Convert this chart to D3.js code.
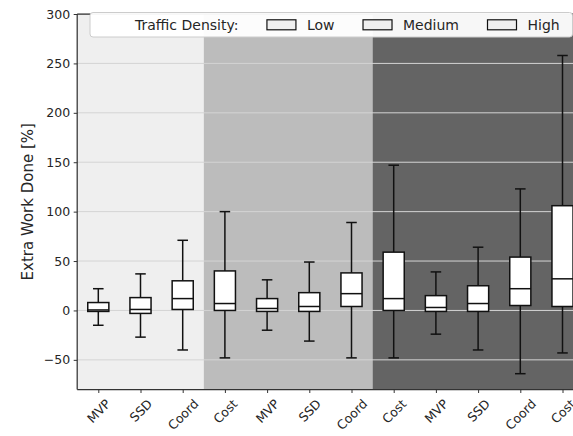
<!DOCTYPE html>
<html>
<head>
<meta charset="utf-8">
<script src="https://cdn.jsdelivr.net/npm/d3@7"></script>
<style>
  html, body { margin: 0; padding: 0; background: #ffffff; }
  svg { display: block; font-family: "DejaVu Sans", sans-serif; }
</style>
</head>
<body>
<svg id="chart" width="573" height="436"></svg>
<script>
// ---- data ----
const categories = ["MVP", "SSD", "Coord", "Cost", "MVP", "SSD", "Coord", "Cost", "MVP", "SSD", "Coord", "Cost"];
const density = ["Low", "Low", "Low", "Medium", "Medium", "Medium", "Medium", "High", "High", "High", "High", "High"];
const whiskerLow  = [-15, -27, -40, -48, -20, -31, -48, -48, -24, -40, -64, -43];
const q1          = [ -1,  -3,   1,   0,  -1,  -1,   4,   0,  -1,  -1,   5,   4];
const median      = [  0.5, 1,  12,   7,   2,   4,  17,  12,   3,   7,  22,  32];
const q3          = [  8,  13,  30,  40,  12,  18,  38,  59,  15,  25,  54, 106];
const whiskerHigh = [ 22,  37,  71, 100,  31,  49,  89, 147,  39,  64, 123, 258];
const densityLevels = ["Low", "Medium", "High"];
const densityColors = ["#efefef", "#bcbcbc", "#646464"];
const yTicks = [-50, 0, 50, 100, 150, 200, 250, 300];
const legendTitle = "Traffic Density:";
const yLabel = "Extra Work Done [%]";

(function () {
// ---- layout ----
const svg = d3.select("#chart");
const pL = 77.2, pR = 583.6, pT = 14, pB = 389.5;
const x = d3.scaleLinear().domain([0.5, categories.length + 0.5]).range([pL, pR]);
const y = d3.scaleLinear().domain([-80, 300]).range([pB, pT]);
const pos = categories.map((c, i) => i + 1);

// background bands
const bands = densityLevels.map((lvl, k) => {
  const idx = density.map((d, i) => d === lvl ? i : -1).filter(i => i >= 0);
  return { lvl, color: densityColors[k], start: d3.min(idx) + 0.5, end: d3.max(idx) + 1.5 };
});
svg.append("g").selectAll("rect").data(bands).join("rect")
  .attr("x", d => x(d.start)).attr("width", d => x(d.end) - x(d.start))
  .attr("y", pT).attr("height", pB - pT)
  .attr("fill", d => d.color);

// grid
svg.append("g").selectAll("line").data(yTicks).join("line")
  .attr("x1", pL).attr("x2", pR)
  .attr("y1", d => y(d)).attr("y2", d => y(d))
  .attr("stroke", "#d4d4d4").attr("stroke-width", 1);

// boxes
const bw = 0.5, cw = 0.25;
const g = svg.append("g");
pos.forEach((p, i) => {
  const cx = x(p);
  const hw = (x(p + bw / 2) - x(p - bw / 2)) / 2;
  const chw = (x(p + cw / 2) - x(p - cw / 2)) / 2;
  const line = (x1, y1, x2, y2) => g.append("line")
    .attr("x1", x1).attr("y1", y1).attr("x2", x2).attr("y2", y2)
    .attr("stroke", "#111").attr("stroke-width", 1.5);
  line(cx, y(q3[i]), cx, y(whiskerHigh[i]));
  line(cx, y(q1[i]), cx, y(whiskerLow[i]));
  line(cx - chw, y(whiskerHigh[i]), cx + chw, y(whiskerHigh[i]));
  line(cx - chw, y(whiskerLow[i]), cx + chw, y(whiskerLow[i]));
  g.append("rect")
    .attr("x", cx - hw).attr("width", 2 * hw)
    .attr("y", y(q3[i])).attr("height", y(q1[i]) - y(q3[i]))
    .attr("fill", "#ffffff").attr("stroke", "#111").attr("stroke-width", 1.5);
  line(cx - hw, y(median[i]), cx + hw, y(median[i]));
});

// spines
const spine = (x1, y1, x2, y2) => svg.append("line")
  .attr("x1", x1).attr("y1", y1).attr("x2", x2).attr("y2", y2)
  .attr("stroke", "#333").attr("stroke-width", 1.25);
spine(pL, pT, pL, pB);
spine(pL, pB, pR, pB);
spine(pL, pT, pR, pT);

// y axis
const yAxis = d3.axisLeft(y).tickValues(yTicks).tickSize(3.5).tickPadding(3.5)
  .tickFormat(d => d3.format("d")(d).replace("-", "\u2212"));
const ya = svg.append("g").attr("transform", `translate(${pL},0)`).call(yAxis);
ya.select(".domain").remove();
ya.selectAll(".tick line").attr("stroke", "#333");
ya.selectAll("text").attr("fill", "#262626").style("font-size", "12.5px").style("font-family", "DejaVu Sans");

// x axis
const xAxis = d3.axisBottom(x).tickValues(pos).tickSize(3.5).tickFormat((d, i) => categories[i]);
const xa = svg.append("g").attr("transform", `translate(0,${pB})`).call(xAxis);
xa.select(".domain").remove();
xa.selectAll(".tick line").attr("stroke", "#333");
xa.selectAll(".tick text").each(function () {
  const t = d3.select(this);
  t.style("font-size", "12.5px").style("font-family", "DejaVu Sans").attr("fill", "#262626")
   .attr("text-anchor", "middle").attr("dy", null).attr("y", 0);
  const w = this.getComputedTextLength();
  const h = 12.5 * 1.15;
  const half = (w + h) / (2 * Math.SQRT2);
  const cy = 3.5 + 3.5 + half;
  t.attr("transform", `translate(0,${cy}) rotate(-45)`).attr("dy", "0.35em");
});

// y label
svg.append("text")
  .attr("transform", `translate(28,${(pT + pB) / 2}) rotate(-90)`)
  .attr("text-anchor", "middle").attr("dy", "0.35em")
  .style("font-size", "15px").attr("fill", "#262626")
  .text(yLabel);

// legend
const lg = svg.append("g");
lg.append("rect").attr("x", 90).attr("y", 12.5).attr("width", 482.5).attr("height", 24.5)
  .attr("rx", 3).attr("fill", "#ffffff").attr("fill-opacity", 0.95)
  .attr("stroke", "#cccccc").attr("stroke-width", 1);
const entries = [{ label: legendTitle, handle: false }].concat(densityLevels.map(l => ({ label: l, handle: true })));
let lx = 95;
const ly = 24.8;
entries.forEach(e => {
  if (e.handle) {
    lg.append("rect").attr("x", lx).attr("y", ly - 5).attr("width", 29).attr("height", 10)
      .attr("fill", "#efefef").attr("stroke", "#111").attr("stroke-width", 1.2);
  }
  const t = lg.append("text").attr("x", lx + 40).attr("y", ly).attr("dy", "0.35em")
    .style("font-size", "14px").attr("fill", "#262626").text(e.label);
  lx += 40 + t.node().getComputedTextLength() + 28.5;
});
})();
</script>
</body>
</html>
